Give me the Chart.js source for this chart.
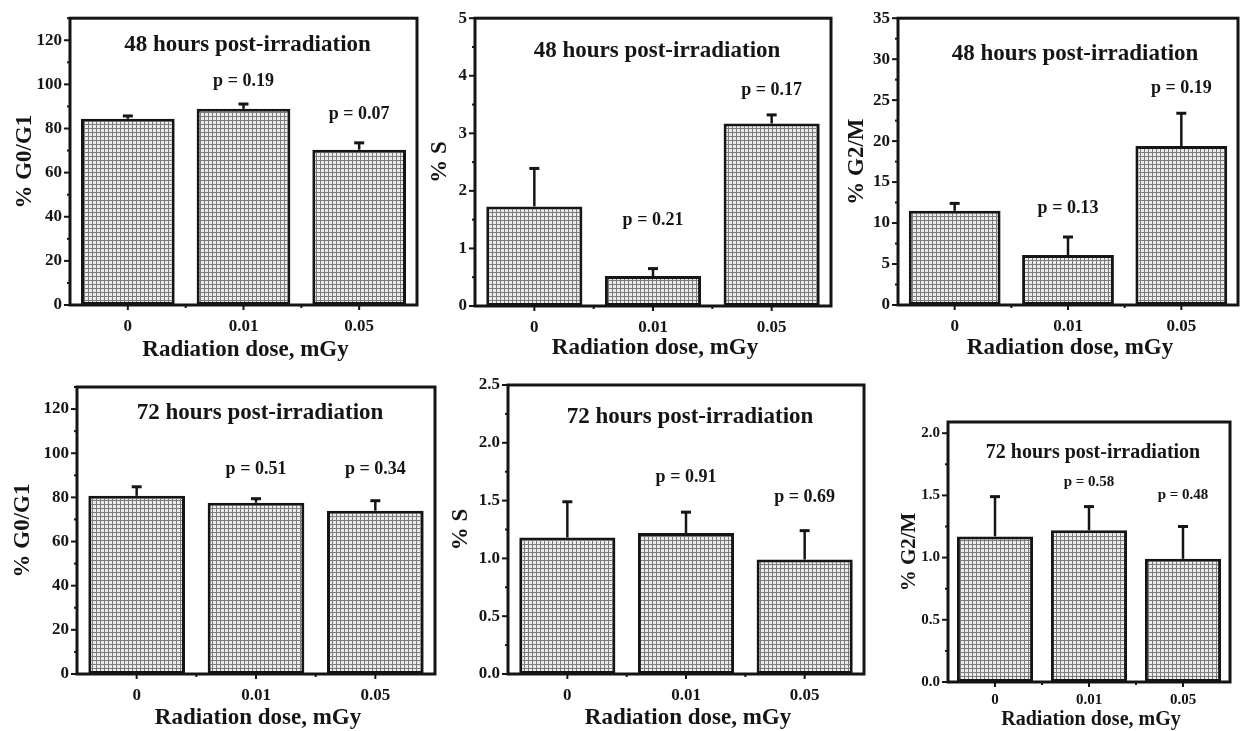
<!DOCTYPE html>
<html>
<head>
<meta charset="utf-8">
<script src="https://cdn.jsdelivr.net/npm/chart.js@4/dist/chart.umd.min.js"></script>
<style>
  body { margin: 0; background: #fff; }
  #wrap { position: relative; width: 1240px; height: 731px; }
  #wrap canvas { position: absolute; left: 0; top: 0; }
</style>
</head>
<body>
<div id="wrap"></div>
<script>
const doses = ['0', '0.01', '0.05']

// 48 hours
const g0g1_48h = [84.4, 88.9, 70.4]
const g0g1_48h_sd = [1.3, 2.2, 3.1]
const g0g1_48h_p = ['', 'p = 0.19', 'p = 0.07']
const s_48h = [1.73, 0.52, 3.17]
const s_48h_sd = [0.66, 0.13, 0.15]
const s_48h_p = ['', 'p = 0.21', 'p = 0.17']
const g2m_48h = [11.5, 6.1, 19.4]
const g2m_48h_sd = [0.9, 2.2, 4.0]
const g2m_48h_p = ['', 'p = 0.13', 'p = 0.19']

// 72 hours
const g0g1_72h = [80.7, 77.6, 74.0]
const g0g1_72h_sd = [4.1, 1.8, 4.5]
const g0g1_72h_p = ['', 'p = 0.51', 'p = 0.34']
const s_72h = [1.18, 1.22, 0.99]
const s_72h_sd = [0.31, 0.18, 0.25]
const s_72h_p = ['', 'p = 0.91', 'p = 0.69']
const g2m_72h = [1.17, 1.22, 0.99]
const g2m_72h_sd = [0.32, 0.19, 0.26]
const g2m_72h_p = ['', 'p = 0.58', 'p = 0.48']

const ink = '#151515'
const serif = '"Liberation Serif", "Times New Roman", serif'
const bigFont = {title: 23, p: 18, tick: 17, xTitle: 23, yTitle: 23, xPad: 11}
const smallFont = {title: 20, p: 15, tick: 15, xTitle: 20, yTitle: 21, xPad: 9}

// layout of each panel: plot box [left, top, right, bottom] in page pixels
const panels = [
  {values: g0g1_48h, sd: g0g1_48h_sd, p: g0g1_48h_p, pAt: [0, 101.5, 86.6], title: '48 hours post-irradiation', yTitle: '% G0/G1',
   box: [70, 16, 417, 305], yMax: 130, minor: 10, major: 20, dec: 0, tDx: 4, tDy: 27, yTx: 45, xTy: 45, f: bigFont},
  {values: s_48h, sd: s_48h_sd, p: s_48h_p, pAt: [0, 1.49, 3.74], title: '48 hours post-irradiation', yTitle: '% S',
   box: [475, 17, 831, 306], yMax: 5, minor: 0.5, major: 1, dec: 0, tDx: 4, tDy: 33, yTx: 35, xTy: 42, f: bigFont},
  {values: g2m_48h, sd: g2m_48h_sd, p: g2m_48h_p, pAt: [0, 11.8, 26.4], title: '48 hours post-irradiation', yTitle: '% G2/M',
   box: [898, 17, 1238, 305], yMax: 35, minor: 2.5, major: 5, dec: 0, tDx: 7, tDy: 36, yTx: 41, xTy: 43, f: bigFont},
  {values: g0g1_72h, sd: g0g1_72h_sd, p: g0g1_72h_p, pAt: [0, 92.9, 92.9], title: '72 hours post-irradiation', yTitle: '% G0/G1',
   box: [77, 387, 435, 674], yMax: 130, minor: 10, major: 20, dec: 0, tDx: 4, tDy: 26, yTx: 54, xTy: 44, f: bigFont},
  {values: s_72h, sd: s_72h_sd, p: s_72h_p, pAt: [0, 1.70, 1.53], title: '72 hours post-irradiation', yTitle: '% S',
   box: [508, 385, 864, 674], yMax: 2.5, minor: 0.25, major: 0.5, dec: 1, tDx: 4, tDy: 32, yTx: 47, xTy: 44, f: bigFont},
  {values: g2m_72h, sd: g2m_72h_sd, p: g2m_72h_p, pAt: [0, 1.61, 1.50], title: '72 hours post-irradiation', yTitle: '% G2/M',
   box: [948, 422, 1230, 682], yMax: 2.09, minor: 0.25, major: 0.5, dec: 1, tDx: 4, tDy: 31, yTx: 38, xTy: 38, f: smallFont},
]

const Y_W = 50
const X_H = 40

const isMajor = (v, step) => Math.abs(v / step - Math.round(v / step)) < 1e-6

const decor = {
  id: 'decor',
  afterDatasetsDraw(chart) {
    const {ctx, scales: {y}} = chart
    const ds = chart.data.datasets[0]
    const meta = chart.getDatasetMeta(0)
    ctx.save()
    ctx.strokeStyle = ink
    meta.data.forEach((bar, i) => {
      const top = y.getPixelForValue(ds.data[i] + ds.errors[i])
      ctx.lineWidth = 2.5
      ctx.beginPath()
      ctx.moveTo(bar.x, bar.y)
      ctx.lineTo(bar.x, top)
      ctx.stroke()
      ctx.lineWidth = 3
      ctx.beginPath()
      ctx.moveTo(bar.x - 5, top)
      ctx.lineTo(bar.x + 5, top)
      ctx.stroke()
    })
    ctx.restore()
  },
  afterDraw(chart) {
    const {ctx, chartArea: a, scales: {x, y}} = chart
    const cfg = chart.config.options.panel
    const ds = chart.data.datasets[0]
    ctx.save()
    ctx.strokeStyle = ink
    ctx.fillStyle = ink
    // frame
    ctx.lineWidth = 3
    ctx.strokeRect(a.left, a.top, a.right - a.left, a.bottom - a.top)
    // y ticks
    ctx.lineWidth = 2
    y.ticks.forEach(t => {
      const py = y.getPixelForValue(t.value)
      const len = isMajor(t.value, cfg.major) ? 6 : 3
      ctx.beginPath()
      ctx.moveTo(a.left - len, py)
      ctx.lineTo(a.left, py)
      ctx.stroke()
    })
    // x ticks: centers and category boundaries
    doses.forEach((d, i) => {
      const px = x.getPixelForValue(i)
      ctx.beginPath()
      ctx.moveTo(px, a.bottom)
      ctx.lineTo(px, a.bottom + 5)
      ctx.stroke()
      if (i > 0) {
        const bx = (px + x.getPixelForValue(i - 1)) / 2
        ctx.beginPath()
        ctx.moveTo(bx, a.bottom)
        ctx.lineTo(bx, a.bottom + 3)
        ctx.stroke()
      }
    })
    ctx.textAlign = 'center'
    ctx.textBaseline = 'middle'
    // panel title
    ctx.font = `bold ${cfg.f.title}px ${serif}`
    ctx.fillText(cfg.title, (a.left + a.right) / 2 + cfg.tDx, a.top + cfg.tDy)
    // p values
    ctx.font = `bold ${cfg.f.p}px ${serif}`
    ds.pLabels.forEach((s, i) => {
      if (!s) return
      ctx.fillText(s, x.getPixelForValue(i), y.getPixelForValue(cfg.pAt[i]))
    })
    // x title
    ctx.font = `bold ${cfg.f.xTitle}px ${serif}`
    ctx.fillText('Radiation dose, mGy', (a.left + a.right) / 2 + 2, a.bottom + cfg.xTy)
    // y title
    ctx.font = `bold ${cfg.f.yTitle}px ${serif}`
    ctx.translate(a.left - cfg.yTx, (a.top + a.bottom) / 2)
    ctx.rotate(-Math.PI / 2)
    ctx.fillText(cfg.yTitle, 0, 0)
    ctx.restore()
  }
}

const makePattern = ctx => {
  const tile = document.createElement('canvas')
  tile.width = 4
  tile.height = 4
  const g = tile.getContext('2d')
  g.fillStyle = '#ebebeb'
  g.fillRect(0, 0, 4, 4)
  g.fillStyle = '#7c7c7c'
  g.fillRect(0, 0, 4, 1)
  g.fillRect(0, 0, 1, 4)
  return ctx.createPattern(tile, 'repeat')
}

const addPanel = cfg => {
  const canvas = document.createElement('canvas')
  canvas.width = 1240
  canvas.height = 731
  document.getElementById('wrap').append(canvas)
  const ctx = canvas.getContext('2d')
  const [l, t, r, b] = cfg.box

  new Chart(ctx, {
    type: 'bar',
    data: {
      labels: doses,
      datasets: [{
        data: cfg.values,
        errors: cfg.sd,
        pLabels: cfg.p,
        backgroundColor: makePattern(ctx),
        borderColor: ink,
        borderWidth: 3,
        borderSkipped: false,
        barPercentage: 0.81,
        categoryPercentage: 1
      }]
    },
    options: {
      panel: cfg,
      responsive: false,
      animation: false,
      events: [],
      layout: {
        autoPadding: false,
        padding: {left: l - Y_W, top: t, right: 1240 - r, bottom: 731 - b - X_H}
      },
      plugins: {legend: {display: false}, title: {display: false}, tooltip: {enabled: false}},
      scales: {
        x: {
          grid: {display: false, drawTicks: false},
          border: {display: false},
          ticks: {color: ink, padding: cfg.f.xPad, font: {family: serif, weight: 'bold', size: cfg.f.tick}, maxRotation: 0},
          afterFit: s => { s.height = X_H }
        },
        y: {
          min: 0,
          max: cfg.yMax,
          grid: {display: false, drawTicks: false},
          border: {display: false},
          ticks: {
            stepSize: cfg.minor,
            includeBounds: false,
            autoSkip: false,
            maxTicksLimit: 100,
            padding: 8,
            color: ink,
            font: {family: serif, weight: 'bold', size: cfg.f.tick},
            callback: v => isMajor(v, cfg.major) ? v.toFixed(cfg.dec) : ''
          },
          afterFit: s => { s.width = Y_W }
        }
      }
    },
    plugins: [decor]
  })
}

panels.forEach(addPanel)
</script>
</body>
</html>
